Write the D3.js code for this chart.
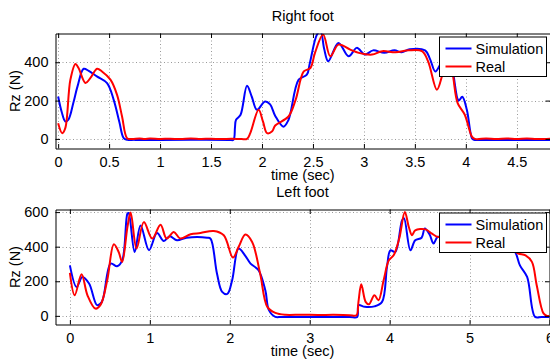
<!DOCTYPE html>
<html>
<head>
<meta charset="utf-8">
<script src="https://cdn.jsdelivr.net/npm/d3@7"></script>
<style>
  html, body { margin: 0; padding: 0; background: #fff; }
  svg { display: block; }
  text { font-family: "Liberation Sans", Arial, sans-serif; font-size: 14.5px; fill: #000; }
</style>
</head>
<body>
<svg id="chart" width="550" height="362"></svg>
<script>
// ---- Data ----
const seriesNames = ["Simulation", "Real"];
const seriesColors = ["#0000ff", "#ff0000"];

const rightTitle = "Right foot";
const leftTitle = "Left foot";
const xLabel = "time (sec)";
const yLabel = "Rz (N)";

const rightXTicks = [0, 0.5, 1, 1.5, 2, 2.5, 3, 3.5, 4, 4.5];
const rightYTicks = [0, 200, 400];
const leftXTicks = [0, 1, 2, 3, 4, 5, 6];
const leftYTicks = [0, 200, 400, 600];

const rightSim = [[0,221],[0.035,140],[0.07,91],[0.1,100],[0.15,190],[0.19,274],[0.25,366],[0.3,355],[0.38,326],[0.48,291],[0.545,204],[0.6,90],[0.643,4],[0.68,-5],[0.75,-5],[1.0,-6],[1.3,-5],[1.68,-5],[1.72,-5],[1.735,60],[1.745,99],[1.79,126],[1.853,277],[1.9,220],[1.95,152],[2.03,195],[2.08,180],[2.13,120],[2.21,64],[2.26,99],[2.36,309],[2.44,335],[2.47,396],[2.54,545],[2.575,560],[2.61,470],[2.65,405],[2.75,501],[2.85,431],[2.93,475],[3.01,440],[3.09,462],[3.2,449],[3.3,462],[3.37,452],[3.45,468],[3.6,462],[3.65,415],[3.7,352],[3.75,390],[3.8,455],[3.84,470],[3.88,330],[3.93,200],[3.965,220],[4.01,152],[4.06,4],[4.08,-5],[4.15,-5],[4.5,-5],[4.83,-5]];

const rightReal = [[0,82],[0.04,30],[0.07,56],[0.12,309],[0.17,391],[0.2,370],[0.268,292],[0.317,318],[0.382,366],[0.43,352],[0.513,309],[0.578,230],[0.627,117],[0.676,4],[0.72,0],[0.8,2],[0.85,-1],[0.9,2],[1.0,0],[1.1,1],[1.2,-1],[1.3,2],[1.4,0],[1.5,1],[1.6,-1],[1.7,1],[1.8,-1],[1.853,0],[1.885,30],[1.967,152],[2.01,90],[2.05,30],[2.1,40],[2.13,70],[2.26,117],[2.33,204],[2.41,352],[2.475,370],[2.52,449],[2.6,545],[2.67,431],[2.75,492],[2.866,466],[2.95,449],[3.08,440],[3.18,458],[3.31,452],[3.44,462],[3.57,458],[3.63,405],[3.716,257],[3.765,326],[3.81,431],[3.845,465],[3.88,309],[3.92,187],[3.99,126],[4.06,12],[4.09,0],[4.2,2],[4.3,-1],[4.4,2],[4.5,0],[4.6,2],[4.7,-1],[4.83,1]];

const leftSim = [[0,292],[0.084,167],[0.155,225],[0.24,187],[0.34,62],[0.4,81],[0.51,302],[0.59,287],[0.655,321],[0.72,591],[0.735,595],[0.81,369],[0.884,523],[0.99,380],[1.09,479],[1.175,433],[1.25,460],[1.34,437],[1.46,452],[1.717,452],[1.76,446],[1.84,245],[1.905,139],[1.97,127],[2.03,206],[2.11,389],[2.19,350],[2.26,302],[2.36,264],[2.445,148],[2.49,33],[2.57,-6],[2.65,-6],[3.0,-6],[3.5,-6],[3.595,-6],[3.61,62],[3.69,52],[3.81,55],[3.905,81],[3.967,283],[4.01,379],[4.07,369],[4.155,552],[4.18,565],[4.26,379],[4.32,437],[4.4,452],[4.44,505],[4.5,470],[4.55,418],[4.6,456],[4.7,450],[4.9,445],[5.1,450],[5.3,440],[5.45,420],[5.57,369],[5.63,292],[5.72,225],[5.82,-6],[5.9,-6],[6.0,-6]];

const leftReal = [[0,248],[0.06,119],[0.146,241],[0.22,119],[0.32,42],[0.385,65],[0.467,206],[0.55,414],[0.61,369],[0.654,312],[0.72,514],[0.76,597],[0.834,389],[0.925,542],[1.03,447],[1.134,527],[1.21,447],[1.3,485],[1.38,447],[1.51,472],[1.634,479],[1.8,491],[1.925,466],[2.04,337],[2.11,398],[2.196,470],[2.28,427],[2.38,245],[2.47,52],[2.57,17],[2.7,6],[2.9,7],[3.1,5],[3.3,6],[3.5,4],[3.585,4],[3.61,81],[3.645,183],[3.7,81],[3.74,67],[3.81,119],[3.86,90],[3.925,206],[3.99,321],[4.05,350],[4.12,447],[4.19,600],[4.24,514],[4.28,466],[4.32,494],[4.45,500],[4.53,475],[4.61,456],[4.8,470],[5.0,475],[5.2,470],[5.4,440],[5.55,380],[5.61,360],[5.7,350],[5.78,312],[5.84,177],[5.925,14],[5.97,0],[6.0,1]];

// ---- Drawing ----
const svg = d3.select("#chart");

function panel(cfg) {
  const x = d3.scaleLinear().domain(cfg.xDomain).range([cfg.left, cfg.right]);
  const y = d3.scaleLinear().domain(cfg.yDomain).range([cfg.bottom, cfg.top]);
  const g = svg.append("g");
  const clipId = "clip" + cfg.id;
  svg.append("defs").append("clipPath").attr("id", clipId)
    .append("rect").attr("x", cfg.left).attr("y", cfg.top)
    .attr("width", cfg.right - cfg.left).attr("height", cfg.bottom - cfg.top);

  // grid
  g.append("g").selectAll("line").data(cfg.xTicks).join("line")
    .attr("x1", d => Math.round(x(d)) + 0.5).attr("x2", d => Math.round(x(d)) + 0.5)
    .attr("y1", cfg.top).attr("y2", cfg.bottom)
    .attr("stroke", "#9a9a9a").attr("stroke-width", 1).attr("stroke-dasharray", "1,2.5");
  g.append("g").selectAll("line").data(cfg.yTicks).join("line")
    .attr("y1", d => Math.round(y(d)) + 0.5).attr("y2", d => Math.round(y(d)) + 0.5)
    .attr("x1", cfg.left).attr("x2", cfg.right)
    .attr("stroke", "#9a9a9a").attr("stroke-width", 1).attr("stroke-dasharray", "1,2.5");

  // lines
  const line = d3.line().x(d => x(d[0])).y(d => y(d[1])).curve(d3.curveCatmullRom.alpha(0.5));
  const lg = g.append("g").attr("clip-path", `url(#${clipId})`);
  cfg.series.forEach((s, i) => {
    lg.append("path").attr("d", line(s)).attr("fill", "none")
      .attr("stroke", seriesColors[i]).attr("stroke-width", 2).attr("stroke-linejoin", "round");
  });

  // axes (ticks inward on all sides)
  const tl = 4.5;
  const bottomAxis = d3.axisBottom(x).tickValues(cfg.xTicks).tickSizeInner(-tl).tickSizeOuter(0).tickPadding(8).tickFormat(d3.format("~g"));
  const topAxis = d3.axisTop(x).tickValues(cfg.xTicks).tickSizeInner(-tl).tickSizeOuter(0).tickFormat("");
  const leftAxis = d3.axisLeft(y).tickValues(cfg.yTicks).tickSizeInner(-tl).tickSizeOuter(0).tickPadding(7).tickFormat(d3.format("~g"));
  const rightAxis = d3.axisRight(y).tickValues(cfg.yTicks).tickSizeInner(-tl).tickSizeOuter(0).tickFormat("");

  const style = sel => {
    sel.selectAll(".domain").attr("stroke", "#000").attr("stroke-width", 1);
    sel.selectAll(".tick line").attr("stroke", "#000");
    sel.selectAll("text").attr("font-family", null).attr("font-size", null).attr("fill", "#000");
  };
  g.append("g").attr("transform", `translate(0,${cfg.bottom})`).call(bottomAxis).call(style);
  g.append("g").attr("transform", `translate(0,${cfg.top})`).call(topAxis).call(style);
  g.append("g").attr("transform", `translate(${cfg.left},0)`).call(leftAxis).call(style);
  g.append("g").attr("transform", `translate(${cfg.right},0)`).call(rightAxis).call(style);

  // title / labels
  const cx = (cfg.left + cfg.right) / 2;
  g.append("text").attr("x", cx).attr("y", cfg.top - 12.5).attr("text-anchor", "middle").text(cfg.title);
  g.append("text").attr("x", cx).attr("y", cfg.bottom + 31.5).attr("text-anchor", "middle").text(xLabel);
  g.append("text").attr("transform", `translate(20,${(cfg.top + cfg.bottom) / 2}) rotate(-90)`)
    .attr("text-anchor", "middle").text(yLabel);

  // legend
  const lx = 439.5, ly = cfg.top + 3.5, lw = 107, lh = 39.5;
  const leg = g.append("g");
  leg.append("rect").attr("x", lx).attr("y", ly).attr("width", lw).attr("height", lh)
    .attr("fill", "#fff").attr("stroke", "#000").attr("stroke-width", 1);
  seriesNames.forEach((n, i) => {
    const yy = ly + 11.5 + i * 18;
    leg.append("line").attr("x1", lx + 6).attr("x2", lx + 32).attr("y1", yy).attr("y2", yy)
      .attr("stroke", seriesColors[i]).attr("stroke-width", 2);
    leg.append("text").attr("x", lx + 36).attr("y", yy + 5).text(n);
  });
}

panel({
  id: "R", title: rightTitle,
  left: 55.5, right: 550, top: 33.5, bottom: 148.5,
  xDomain: [-0.026, 4.826], yDomain: [-50, 550],
  xTicks: rightXTicks, yTicks: rightYTicks,
  series: [rightSim, rightReal]
});

panel({
  id: "L", title: leftTitle,
  left: 55.5, right: 549.5, top: 209.5, bottom: 324.5,
  xDomain: [-0.18, 6.0], yDomain: [-50, 615],
  xTicks: leftXTicks, yTicks: leftYTicks,
  series: [leftSim, leftReal]
});
</script>
</body>
</html>
